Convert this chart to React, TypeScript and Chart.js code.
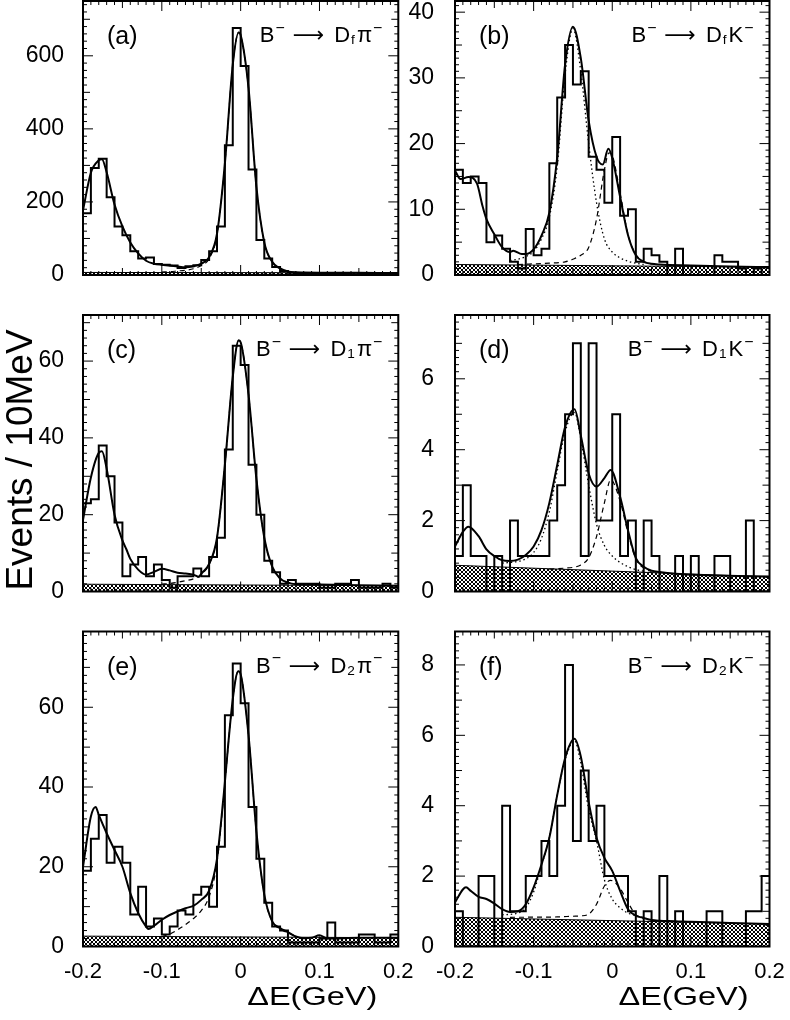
import { useEffect, useRef } from "react";
import { Chart, registerables } from "chart.js";

Chart.register(...registerables);

const FONT = "'Liberation Sans', Arial, Helvetica, 'DejaVu Sans', sans-serif";
Chart.defaults.font.family = FONT;
Chart.defaults.color = "#000";

// 40 bins of 10 MeV between -0.2 and 0.2 GeV
const xMin = -0.2;
const xMax = 0.2;
const binWidth = 0.01;
const nBins = 40;
const xTicks = [-0.2, -0.1, 0, 0.1, 0.2];
const xTickLabels = ["-0.2", "-0.1", "0", "0.1", "0.2"];

// y tick labels per panel
const yTicksA = [0, 200, 400, 600];
const yTicksB = [0, 10, 20, 30, 40];
const yTicksC = [0, 20, 40, 60];
const yTicksD = [0, 2, 4, 6];
const yTicksE = [0, 20, 40, 60];
const yTicksF = [0, 2, 4, 6, 8];

// histogram contents (events per bin)
const histA = [169, 293, 318, 213, 133, 109, 65, 45, 48, 30, 28, 26, 19, 24, 27, 41, 65, 133, 355, 676,
  572, 289, 96, 45, 22, 11, 6, 4, 3, 4, 5, 3, 4, 3, 2, 3, 4, 3, 2, 3];
const histB = [16, 14, 15, 14, 5, 6, 4, 2, 1, 7, 3, 4, 17, 27, 35, 29, 31, 18, 16, 11,
  21, 9, 10, 2, 4, 3, 2, 0, 4, 0, 0, 0, 0, 3, 2, 2, 1, 0, 1, 0];
const histC = [23, 24, 38, 30, 18, 4, 7, 9, 4, 7, 3, 1, 4, 4, 6, 4, 9, 14, 37, 64,
  59, 33, 20, 8, 5, 2, 3, 2, 2, 2, 1, 1, 2, 2, 3, 1, 1, 1, 2, 1];
const histD = [1, 3, 1, 1, 0, 1, 0, 2, 1, 1, 1, 1, 2, 3, 5, 7, 1, 7, 2, 2,
  5, 1, 2, 0, 2, 1, 0, 0, 1, 0, 1, 0, 0, 1, 1, 0, 0, 2, 0, 0];
const histE = [19, 27, 33, 21, 25, 21, 8, 15, 5, 7, 3, 5, 9, 8, 13, 15, 10, 25, 58, 71,
  61, 35, 22, 11, 5, 4, 1, 1, 1, 1, 2, 6, 1, 1, 1, 3, 3, 1, 1, 3];
const histF = [1, 0, 0, 2, 2, 0, 4, 1, 1, 2, 2, 3, 2, 4, 8, 3, 5, 3, 4, 2,
  2, 2, 1, 0, 1, 0, 2, 0, 1, 0, 0, 0, 1, 1, 0, 0, 0, 1, 1, 2];

// fit curves [dE, events]
const fitA: [number, number][] = [[-0.2, 177], [-0.19, 280], [-0.18, 314], [-0.176, 317], [-0.17, 281], [-0.16, 193],
  [-0.15, 133], [-0.14, 89], [-0.13, 59], [-0.12, 39], [-0.11, 31], [-0.1, 28], [-0.09, 26], [-0.08, 23], [-0.07, 21],
  [-0.06, 24], [-0.05, 31], [-0.04, 49], [-0.03, 113], [-0.02, 305], [-0.01, 576], [-0.0025, 664], [0, 657],
  [0.01, 512], [0.02, 241], [0.03, 89], [0.04, 36], [0.05, 18], [0.06, 10], [0.07, 7.5], [0.08, 7], [0.1, 6.5],
  [0.15, 6], [0.2, 5.5]];
const dashA: [number, number][] = [[-0.1, 8], [-0.09, 9], [-0.08, 11], [-0.07, 13], [-0.06, 17], [-0.05, 26],
  [-0.04, 45], [-0.03, 110], [-0.02, 305], [-0.01, 576], [-0.0025, 664], [0, 657], [0.01, 512], [0.02, 241],
  [0.03, 89], [0.04, 36], [0.05, 18], [0.06, 10], [0.07, 7.5]];

const fitB: [number, number][] = [[-0.2, 15.9], [-0.193, 14.6], [-0.183, 14.9], [-0.172, 13.9], [-0.165, 10.5],
  [-0.16, 8.5], [-0.15, 6.2], [-0.14, 4.2], [-0.13, 3.5], [-0.126, 3.7], [-0.115, 3.2], [-0.11, 3.2], [-0.1, 3.9],
  [-0.09, 6], [-0.08, 9.5], [-0.07, 17.9], [-0.06, 32], [-0.05, 37.8], [-0.04, 33], [-0.03, 23.5], [-0.02, 18],
  [-0.012, 16.8], [-0.005, 19.2], [0, 17.8], [0.01, 11.9], [0.02, 6.1], [0.03, 3], [0.04, 2], [0.05, 1.7],
  [0.06, 1.6], [0.1, 1.45], [0.15, 1.3], [0.2, 1.2]];
const dotB: [number, number][] = [[-0.13, 2.2], [-0.12, 2.4], [-0.11, 2.8], [-0.1, 3.6], [-0.09, 5.5], [-0.08, 8.8],
  [-0.07, 16.5], [-0.06, 30.5], [-0.05, 37.5], [-0.04, 31], [-0.03, 20], [-0.02, 11], [-0.01, 5.5], [0, 3.5],
  [0.01, 2.6], [0.02, 2.1], [0.03, 1.8], [0.04, 1.6]];
const dashB: [number, number][] = [[-0.12, 1.6], [-0.08, 1.8], [-0.06, 2.0], [-0.05, 2.4], [-0.04, 3.0], [-0.03, 4.2],
  [-0.02, 8.5], [-0.01, 16], [-0.004, 18.6], [0, 18.2], [0.01, 12.5], [0.02, 6.2], [0.03, 3.1], [0.04, 2.1],
  [0.05, 1.7], [0.06, 1.6]];

const fitC: [number, number][] = [[-0.2, 18.6], [-0.19, 29.7], [-0.18, 36.1], [-0.176, 36.5], [-0.17, 32], [-0.16, 20],
  [-0.15, 13.3], [-0.145, 11], [-0.14, 8.5], [-0.13, 5.7], [-0.12, 4.4], [-0.11, 5.1], [-0.1, 5.9], [-0.09, 5.5],
  [-0.08, 4.9], [-0.07, 4.7], [-0.06, 4.4], [-0.053, 3.8], [-0.05, 4.6], [-0.04, 7.2], [-0.03, 14], [-0.02, 33],
  [-0.01, 55.9], [-0.0025, 65.4], [0, 64.9], [0.01, 51.3], [0.02, 29.3], [0.03, 14], [0.04, 6.5], [0.05, 3.4],
  [0.06, 2.3], [0.07, 1.9], [0.1, 1.8], [0.15, 1.65], [0.2, 1.5]];
const dashC: [number, number][] = [[-0.1, 1.9], [-0.09, 2.1], [-0.08, 2.4], [-0.07, 2.8], [-0.06, 3.3], [-0.05, 4.5],
  [-0.04, 7], [-0.03, 14], [-0.02, 33], [-0.01, 55.9], [-0.0025, 65.4], [0, 64.9], [0.01, 51.3], [0.02, 29.3],
  [0.03, 14], [0.04, 6.5], [0.05, 3.4], [0.06, 2.3], [0.07, 1.9]];

const fitD: [number, number][] = [[-0.2, 1.27], [-0.19, 1.68], [-0.183, 1.83], [-0.17, 1.56], [-0.16, 1.19],
  [-0.15, 1.0], [-0.14, 0.88], [-0.13, 0.86], [-0.12, 0.9], [-0.11, 1.03], [-0.1, 1.27], [-0.09, 1.73], [-0.08, 2.5],
  [-0.07, 3.57], [-0.06, 4.64], [-0.048, 5.14], [-0.04, 4.4], [-0.03, 3.33], [-0.02, 2.96], [-0.01, 3.2],
  [-0.002, 3.43], [0.01, 2.67], [0.02, 1.73], [0.03, 0.94], [0.04, 0.7], [0.05, 0.59], [0.06, 0.55], [0.08, 0.5],
  [0.12, 0.46], [0.16, 0.44], [0.2, 0.42]];
const dotD: [number, number][] = [[-0.14, 0.8], [-0.12, 0.85], [-0.11, 0.92], [-0.1, 1.1], [-0.09, 1.5], [-0.08, 2.25],
  [-0.07, 3.4], [-0.06, 4.5], [-0.048, 5.05], [-0.04, 4.3], [-0.03, 3.0], [-0.02, 1.9], [-0.01, 1.3], [0, 1.0],
  [0.01, 0.82], [0.02, 0.7], [0.03, 0.62], [0.04, 0.57]];
const dashD: [number, number][] = [[-0.08, 0.63], [-0.06, 0.66], [-0.05, 0.68], [-0.04, 0.75], [-0.03, 0.95],
  [-0.02, 1.55], [-0.01, 2.5], [-0.002, 3.15], [0.01, 2.55], [0.02, 1.65], [0.03, 0.92], [0.04, 0.66], [0.05, 0.56]];

const fitE: [number, number][] = [[-0.2, 20], [-0.19, 32.6], [-0.184, 35], [-0.18, 33], [-0.17, 28.4], [-0.16, 24.2],
  [-0.15, 20], [-0.14, 13.4], [-0.13, 8.4], [-0.12, 5], [-0.117, 4.4], [-0.11, 5.2], [-0.1, 6.7], [-0.09, 7.9],
  [-0.08, 8.8], [-0.07, 9.6], [-0.06, 10.2], [-0.05, 11.7], [-0.04, 14], [-0.03, 22], [-0.022, 37], [-0.01, 62],
  [-0.003, 69], [0, 68.3], [0.01, 53], [0.02, 28.8], [0.03, 13], [0.04, 6.3], [0.05, 4.6], [0.06, 3.6], [0.07, 2.5],
  [0.08, 2.1], [0.09, 2.2], [0.1, 2.8], [0.11, 2.0], [0.15, 2.2], [0.2, 2.2]];
const dashE: [number, number][] = [[-0.1, 2.5], [-0.09, 3.1], [-0.08, 4.2], [-0.07, 5.5], [-0.06, 7.0], [-0.05, 9.0],
  [-0.04, 12.5], [-0.03, 21], [-0.022, 36.5], [-0.01, 62], [-0.003, 69], [0, 68.3], [0.01, 53], [0.02, 28.8],
  [0.03, 13], [0.04, 6.3], [0.05, 4.4], [0.06, 3.4], [0.07, 2.6]];

const fitF: [number, number][] = [[-0.2, 1.25], [-0.19, 1.62], [-0.186, 1.68], [-0.18, 1.58], [-0.17, 1.41],
  [-0.16, 1.35], [-0.15, 1.22], [-0.14, 1.06], [-0.13, 0.98], [-0.12, 1.0], [-0.11, 1.2], [-0.1, 1.68], [-0.09, 2.33],
  [-0.08, 3.09], [-0.07, 4.3], [-0.06, 5.35], [-0.048, 5.9], [-0.04, 5.4], [-0.03, 4.1], [-0.02, 3.09], [-0.01, 2.52],
  [0, 2.15], [0.01, 1.58], [0.02, 1.06], [0.03, 0.88], [0.04, 0.81], [0.05, 0.75], [0.06, 0.73], [0.08, 0.72],
  [0.1, 0.7], [0.15, 0.67], [0.2, 0.64]];
const dotF: [number, number][] = [[-0.14, 0.9], [-0.12, 0.95], [-0.11, 1.1], [-0.1, 1.55], [-0.09, 2.3], [-0.08, 3.1],
  [-0.07, 4.3], [-0.06, 5.3], [-0.048, 5.85], [-0.04, 5.2], [-0.03, 3.9], [-0.02, 3.0], [-0.01, 1.9], [0, 1.35],
  [0.01, 1.1], [0.02, 0.95], [0.03, 0.88], [0.04, 0.82]];
const dashF: [number, number][] = [[-0.13, 0.83], [-0.07, 0.84], [-0.05, 0.86], [-0.04, 0.87], [-0.03, 0.92],
  [-0.02, 1.2], [-0.01, 1.72], [-0.002, 1.88], [0.01, 1.65], [0.02, 1.25], [0.03, 0.9], [0.04, 0.8]];

// combinatorial background level at dE = -0.2 and 0.2
const bgA: [number, number][] = [[-0.2, 7], [0.2, 6]];
const bgB: [number, number][] = [[-0.2, 1.6], [0.2, 1.2]];
const bgC: [number, number][] = [[-0.2, 1.9], [0.2, 1.5]];
const bgD: [number, number][] = [[-0.2, 0.74], [0.2, 0.41]];
const bgE: [number, number][] = [[-0.2, 2.6], [0.2, 2.2]];
const bgF: [number, number][] = [[-0.2, 0.83], [0.2, 0.64]];

interface PanelCfg {
  tag: string;
  sub: string;
  meson: string;
  col: number;
  row: number;
  hist: number[];
  fit: [number, number][];
  dash: [number, number][] | null;
  dot: [number, number][] | null;
  bg: [number, number][];
  yMax: number;
  yTicks: number[];
  yMinor: number;
  yMid: number;
}

const panels: PanelCfg[] = [
  { tag: "(a)", sub: "f", meson: "π", col: 0, row: 0, hist: histA, fit: fitA, dash: dashA, dot: null, bg: bgA, yMax: 750, yTicks: yTicksA, yMinor: 20, yMid: 100 },
  { tag: "(b)", sub: "f", meson: "K", col: 1, row: 0, hist: histB, fit: fitB, dash: dashB, dot: dotB, bg: bgB, yMax: 41.7, yTicks: yTicksB, yMinor: 1, yMid: 5 },
  { tag: "(c)", sub: "1", meson: "π", col: 0, row: 1, hist: histC, fit: fitC, dash: dashC, dot: null, bg: bgC, yMax: 72, yTicks: yTicksC, yMinor: 2, yMid: 10 },
  { tag: "(d)", sub: "1", meson: "K", col: 1, row: 1, hist: histD, fit: fitD, dash: dashD, dot: dotD, bg: bgD, yMax: 7.8, yTicks: yTicksD, yMinor: 0.2, yMid: 1 },
  { tag: "(e)", sub: "2", meson: "π", col: 0, row: 2, hist: histE, fit: fitE, dash: dashE, dot: null, bg: bgE, yMax: 79, yTicks: yTicksE, yMinor: 2, yMid: 10 },
  { tag: "(f)", sub: "2", meson: "K", col: 1, row: 2, hist: histF, fit: fitF, dash: dashF, dot: dotF, bg: bgF, yMax: 8.95, yTicks: yTicksF, yMinor: 0.2, yMid: 1 },
];

// page geometry
const colLeft = [0, 400];
const colWidth = [430, 390];
const yAxisWidth = [83, 55];
const padRight = [31.7, 20.5];
const yLabelPad = [11, 13];
const rowTop = [0, 290, 606];
const rowHeight = [345, 365, 414];
const padTop = [1, 25, 25.5];
const padBottom = [30, 23.5, 33.5];

function makeHatch(): CanvasPattern | string {
  const c = document.createElement("canvas");
  c.width = 4;
  c.height = 4;
  const g = c.getContext("2d");
  if (!g) return "#888";
  g.fillStyle = "#fff";
  g.fillRect(0, 0, 4, 4);
  g.fillStyle = "#000";
  for (let i = 0; i < 4; i++) {
    g.fillRect(i, i, 1, 1);
    g.fillRect(3 - i, i, 1, 1);
  }
  return g.createPattern(c, "repeat") || "#888";
}

function toXY(pts: [number, number][]) {
  return pts.map(([x, y]) => ({ x, y }));
}

function drawDecay(ctx: CanvasRenderingContext2D, sub: string, meson: string, right: number, baseline: number) {
  const base = 22;
  const segs = [
    { t: "B", s: 1, dy: 0, gap: 0 },
    { t: "−", s: 0.72, dy: -0.42, gap: 1 },
    { t: "⟶", s: 1, dy: 0, gap: 8 },
    { t: "D", s: 1, dy: 0, gap: 10 },
    { t: sub, s: 0.62, dy: 0.1, gap: 1 },
    { t: meson, s: 1, dy: 0, gap: 2 },
    { t: "−", s: 0.72, dy: -0.42, gap: 1 },
  ];
  let total = 0;
  const widths = segs.map((sg) => {
    ctx.font = `${base * sg.s}px ${FONT}`;
    const w = ctx.measureText(sg.t).width;
    total += sg.gap + w;
    return w;
  });
  let x = right - total;
  ctx.textAlign = "left";
  ctx.textBaseline = "alphabetic";
  segs.forEach((sg, i) => {
    x += sg.gap;
    ctx.font = `${base * sg.s}px ${FONT}`;
    ctx.fillText(sg.t, x, baseline + sg.dy * base);
    x += widths[i];
  });
}

function Panel({ p }: { p: PanelCfg }) {
  const ref = useRef<HTMLCanvasElement>(null);
  const w = colWidth[p.col];
  const h = rowHeight[p.row];
  const bottomRow = p.row === 2;

  useEffect(() => {
    if (!ref.current) return;
    const ctx = ref.current.getContext("2d");
    if (!ctx) return;

    const hist = p.hist.map((v, i) => ({ x: xMin + i * binWidth, y: v }));
    hist.push({ x: xMax, y: p.hist[p.hist.length - 1] });

    const datasets: any[] = [
      { data: hist, borderColor: "#000", borderWidth: 2, stepped: "before", fill: false, order: 1 },
      { data: toXY(p.fit), borderColor: "#000", borderWidth: 2, cubicInterpolationMode: "monotone", fill: false, order: 2 },
    ];
    if (p.dash) {
      datasets.push({ data: toXY(p.dash), borderColor: "#000", borderWidth: 1.2, borderDash: [5, 4],
        cubicInterpolationMode: "monotone", fill: false, order: 3 });
    }
    if (p.dot) {
      datasets.push({ data: toXY(p.dot), borderColor: "#000", borderWidth: 1.3, borderDash: [1.5, 2.8],
        cubicInterpolationMode: "monotone", fill: false, order: 4 });
    }
    datasets.push({ data: toXY(p.bg), borderColor: "#000", borderWidth: 1, backgroundColor: makeHatch(),
      fill: "origin", order: 10 });

    const framePlugin = {
      id: "frame",
      afterDraw(chart: Chart) {
        const c = chart.ctx;
        const a = chart.chartArea;
        const xs = chart.scales.x;
        const ys = chart.scales.y;
        c.save();
        c.strokeStyle = "#000";
        c.fillStyle = "#000";
        c.lineWidth = 1;
        c.beginPath();
        for (let i = 0; i <= nBins; i++) {
          const px = xs.getPixelForValue(xMin + i * binWidth);
          const len = i % 10 === 0 ? 10 : i % 5 === 0 ? 7 : 4;
          c.moveTo(px, a.bottom);
          c.lineTo(px, a.bottom - len);
          c.moveTo(px, a.top);
          c.lineTo(px, a.top + len);
        }
        const n = Math.floor(p.yMax / p.yMinor + 1e-6);
        const major = p.yTicks[1] - p.yTicks[0];
        for (let i = 0; i <= n; i++) {
          const v = i * p.yMinor;
          const py = ys.getPixelForValue(v);
          const isMajor = Math.abs(v / major - Math.round(v / major)) < 1e-6;
          const isMid = Math.abs(v / p.yMid - Math.round(v / p.yMid)) < 1e-6;
          const len = isMajor ? 10 : isMid ? 7 : 4;
          c.moveTo(a.left, py);
          c.lineTo(a.left + len, py);
          c.moveTo(a.right, py);
          c.lineTo(a.right - len, py);
        }
        c.stroke();

        c.lineWidth = 2;
        c.strokeRect(a.left, a.top, a.right - a.left, a.bottom - a.top);

        c.font = `25px ${FONT}`;
        c.textAlign = "left";
        c.textBaseline = "alphabetic";
        c.fillText(p.tag, a.left + 24, a.top + 43);
        drawDecay(c, p.sub, p.meson, a.right - 16, a.top + 41);

        if (bottomRow) {
          c.save();
          c.font = `26px ${FONT}`;
          const tw = c.measureText("ΔE(GeV)").width * 1.25;
          c.translate(a.right - 21 - tw, a.bottom + 58.5);
          c.scale(1.25, 1);
          c.fillText("ΔE(GeV)", 0, 0);
          c.restore();
        }
        if (p.col === 0 && p.row === 1) {
          c.save();
          c.font = `37px ${FONT}`;
          c.translate(32, 460 - rowTop[1]);
          c.rotate(-Math.PI / 2);
          c.textAlign = "center";
          c.fillText("Events / 10MeV", 0, 0);
          c.restore();
        }
        c.restore();
      },
    };

    const chart = new Chart(ctx, {
      type: "line",
      data: { datasets },
      options: {
        responsive: false,
        animation: false,
        events: [],
        layout: { padding: { top: padTop[p.row], bottom: padBottom[p.row], left: 0, right: padRight[p.col] } },
        elements: { point: { radius: 0 }, line: { tension: 0 } },
        plugins: { legend: { display: false }, tooltip: { enabled: false } },
        scales: {
          x: {
            type: "linear",
            min: xMin,
            max: xMax,
            display: bottomRow,
            grid: { display: false },
            border: { display: false },
            ticks: {
              autoSkip: false,
              maxRotation: 0,
              padding: 4,
              font: { size: 22 },
              color: "#000",
              callback: (_v: any, i: number) => xTickLabels[i],
            },
            afterBuildTicks: (s: any) => {
              s.ticks = xTicks.map((v) => ({ value: v }));
            },
            afterFit: (s: any) => {
              s.height = 40;
              s.paddingLeft = 0;
              s.paddingRight = 0;
            },
          },
          y: {
            type: "linear",
            min: 0,
            max: p.yMax,
            grid: { display: false },
            border: { display: false },
            ticks: {
              padding: yLabelPad[p.col],
              font: { size: 23 },
              color: "#000",
              callback: (v: any) => String(v),
            },
            afterBuildTicks: (s: any) => {
              s.ticks = p.yTicks.map((v) => ({ value: v }));
            },
            afterFit: (s: any) => {
              s.width = yAxisWidth[p.col];
              s.paddingTop = 0;
              s.paddingBottom = 0;
            },
          },
        },
      },
      plugins: [framePlugin],
    });

    return () => {
      chart.destroy();
    };
  }, [p]);

  return (
    <canvas
      ref={ref}
      width={w}
      height={h}
      style={{ position: "absolute", left: colLeft[p.col], top: rowTop[p.row], width: w, height: h }}
    />
  );
}

export default function App() {
  return (
    <div style={{ position: "absolute", left: 0, top: 0, width: 790, height: 1020, background: "#fff", overflow: "hidden" }}>
      {panels.map((p) => (
        <Panel key={p.tag} p={p} />
      ))}
    </div>
  );
}
